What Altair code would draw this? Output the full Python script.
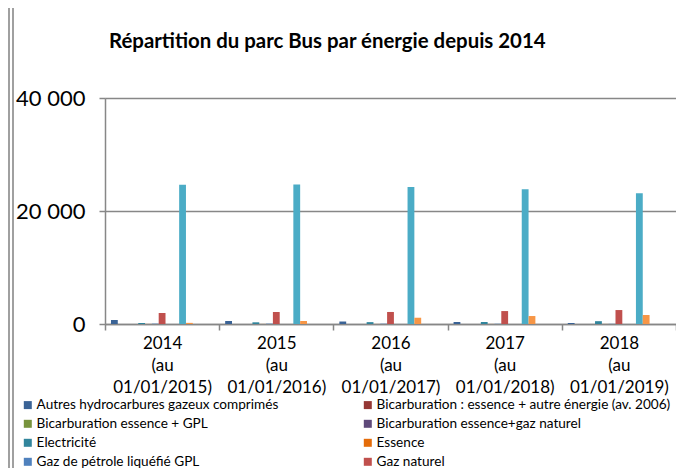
import altair as alt
import pandas as pd

categories = ["2014 (au 01/01/2015)", "2015 (au 01/01/2016)", "2016 (au 01/01/2017)",
              "2017 (au 01/01/2018)", "2018 (au 01/01/2019)"]

series = [
    "Autres hydrocarbures gazeux comprimés",
    "Bicarburation : essence + autre énergie (av. 2006)",
    "Bicarburation essence + GPL",
    "Bicarburation essence+gaz naturel",
    "Electricité",
    "Essence",
    "Gaz de pétrole liquéfié GPL",
    "Gaz naturel",
    "Gaz naturel + électricité",
    "Gazogène",
    "Gazole",
    "Gazole + électricité (hybride)",
    "Hydrogène",
    "Superéthanol",
    "Autres énergies",
]

colors = ["#3A6396", "#953735", "#77933C", "#5F497A", "#31859C", "#E46C0A",
          "#4F81BD", "#C0504D", "#9BBB59", "#8064A2", "#4BACC6", "#F79646",
          "#95B3D7", "#D99694", "#C3D69B"]

v_autres_hc = [700, 530, 440, 350, 180]
v_bicarb_autre = [0, 0, 0, 0, 0]
v_bicarb_gpl = [0, 0, 0, 0, 0]
v_bicarb_gn = [0, 0, 0, 0, 0]
v_electricite = [180, 300, 330, 350, 500]
v_essence = [10, 10, 10, 10, 10]
v_gpl = [60, 60, 50, 40, 30]
v_gaz_naturel = [1950, 2120, 2130, 2290, 2470]
v_gn_elec = [0, 0, 0, 0, 0]
v_gazogene = [0, 0, 0, 0, 0]
v_gazole = [24660, 24710, 24230, 23830, 23120]
v_hybride = [200, 530, 1110, 1410, 1590]
v_hydrogene = [0, 0, 0, 0, 0]
v_superethanol = [0, 0, 0, 0, 0]
v_autres = [0, 0, 0, 0, 0]

values = [v_autres_hc, v_bicarb_autre, v_bicarb_gpl, v_bicarb_gn, v_electricite,
          v_essence, v_gpl, v_gaz_naturel, v_gn_elec, v_gazogene, v_gazole,
          v_hybride, v_hydrogene, v_superethanol, v_autres]

# legend shows the first 8 series, laid out row by row in two columns
shown = series[:8]
legend_order = shown[0::2] + shown[1::2]

rows = []
for s, vals in zip(series, values):
    for c, v in zip(categories, vals):
        rows.append({"cat": c, "serie": s, "val": v})
df = pd.DataFrame(rows)

FONT = "Lato"
GRAY = "#878787"

bars = alt.Chart(df).mark_bar().encode(
    x=alt.X("cat:N", sort=categories,
            scale=alt.Scale(paddingInner=0, paddingOuter=0),
            axis=alt.Axis(title=None, labelAngle=0, labelExpr="split(datum.label, ' ')",
                          tickBand="extent", tickSize=6, tickColor=GRAY, tickWidth=1.5,
                          domainColor=GRAY, domainWidth=1.5, labelFont=FONT,
                          labelFontSize=17, labelColor="black", labelPadding=5,
                          labelLineHeight=22, labelBaseline="top", grid=False)),
    xOffset=alt.XOffset("serie:N", sort=series,
                        scale=alt.Scale(domain=series, paddingInner=0, paddingOuter=0.875)),
    y=alt.Y("val:Q", scale=alt.Scale(domain=[0, 40000]),
            axis=alt.Axis(title=None, values=[0, 20000, 40000],
                          labelExpr="replace(format(datum.value, ','), ',', ' ')",
                          tickSize=6, tickColor=GRAY, tickWidth=1.5, domainColor=GRAY,
                          domainWidth=1.5, gridColor=GRAY, gridWidth=1.5, grid=True,
                          labelFont=FONT, labelFontSize=22, labelColor="black",
                          labelPadding=14)),
    color=alt.Color("serie:N", sort=series,
                    scale=alt.Scale(domain=series, range=colors),
                    legend=alt.Legend(values=legend_order, title=None, orient="none",
                                      legendX=-84, legendY=300, columns=2,
                                      columnPadding=82, rowPadding=4,
                                      symbolType="square", symbolSize=64,
                                      symbolStrokeWidth=0, labelFont=FONT,
                                      labelOffset=2,
                                      labelFontSize=13.6, labelColor="black",
                                      labelLimit=400)),
)

frame_left = alt.Chart(df).mark_rule(color="#A0A0A0", strokeWidth=1.5).encode(
    x=alt.value(-92), y=alt.value(-95), y2=alt.value(380))
frame_top = alt.Chart(df).mark_rule(color="#A0A0A0", strokeWidth=1.5).encode(
    x=alt.value(-92), x2=alt.value(600), y=alt.value(-95))
strip = alt.Chart(df).mark_rule(color="#A0A0A0", strokeWidth=1.5).encode(
    x=alt.value(-96), y=alt.value(-100), y2=alt.value(380))

chart = alt.layer(frame_left, frame_top, strip, bars).properties(
    width=571, height=226,
    autosize=alt.AutoSizeParams(type="none"),
    padding={"left": 97, "top": 90, "right": 0, "bottom": 144},
    title=alt.TitleParams("Répartition du parc Bus par énergie depuis 2014",
                          font=FONT, fontSize=20.4, fontWeight="bold", color="black",
                          anchor="start", frame="group", dx=4, offset=0, dy=71,
                          baseline="alphabetic"),
).configure_view(stroke=None).configure(background="white")

chart.save("out.html", embed_options={"renderer": "svg", "actions": False})
